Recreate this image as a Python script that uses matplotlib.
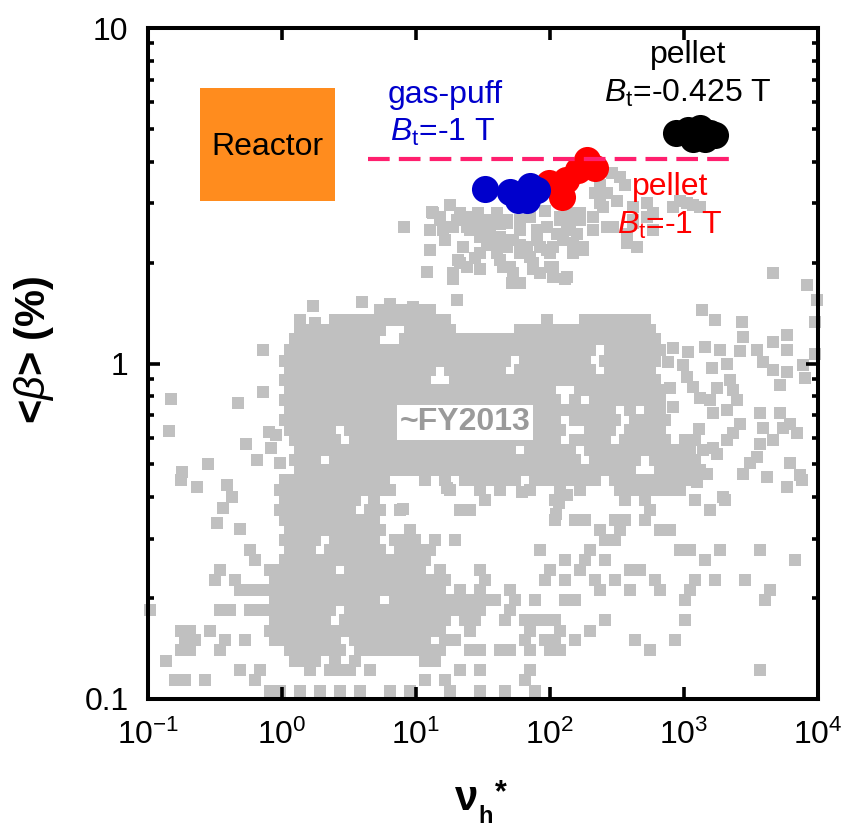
import matplotlib
matplotlib.use('Agg')
import matplotlib.pyplot as plt
from matplotlib.patches import Rectangle
from matplotlib.ticker import FixedLocator, FixedFormatter, NullLocator, NullFormatter

plt.rcParams['font.family'] = ['Liberation Sans', 'DejaVu Sans']
plt.rcParams['mathtext.fontset'] = 'custom'
plt.rcParams['mathtext.rm'] = 'Liberation Sans'
plt.rcParams['mathtext.it'] = 'Liberation Sans:italic'
plt.rcParams['mathtext.bf'] = 'Liberation Sans:bold'

# ---------------- data ----------------
# database (~FY2013), dense middle band: beta value of each row -> nu* values
band_y = [1.44, 1.35, 1.26, 1.18, 1.10, 1.02, 0.956, 0.893, 0.834, 0.778,
          0.726, 0.678, 0.633, 0.591, 0.552, 0.515, 0.481, 0.449, 0.419]
band_x = [
    [5.35, 6.4, 7.6, 9.0, 10.7, 12.7],
    [2.49, 2.95, 3.50, 4.15, 4.9, 5.8, 7.0, 8.3, 9.8, 11.7, 13.8, 16.5, 182, 217, 257, 306, 363, 430, 512],
    [1.36, 1.62, 1.92, 2.28, 2.70, 3.20, 3.80, 4.5, 5.35, 9.0, 10.7, 12.7, 15.1, 17.9, 59.6, 71, 84, 100,
     119, 141, 167, 199, 236, 281, 333, 395, 470, 557],
    [1.25, 1.49, 1.77, 2.10, 2.49, 2.95, 3.50, 4.15, 4.9, 8.3, 9.8, 11.7, 13.8, 16.5, 19.5, 23.2, 27.6,
     32.7, 38.8, 46.2, 54.8, 65, 77, 92, 109, 130, 154, 182, 217, 257, 306, 363, 430, 512, 607],
    [1.15, 1.36, 1.62, 1.92, 2.28, 2.70, 3.20, 3.80, 4.5, 5.35, 6.4, 7.6, 9.0, 10.7, 12.7, 15.1, 17.9, 21.3,
     25.3, 30.0, 35.6, 42.4, 50.3, 59.6, 71, 84, 100, 119, 141, 167, 199, 281, 333, 395, 470, 557, 661],
    [1.05, 1.25, 1.49, 1.77, 2.10, 2.49, 2.95, 3.50, 4.15, 4.9, 5.8, 7.0, 8.3, 9.8, 11.7, 13.8, 16.5, 19.5,
     23.2, 27.6, 32.7, 38.8, 46.2, 65, 77, 92, 109, 130, 154, 182, 257, 306, 363, 430, 512, 607],
    [1.15, 1.36, 1.62, 1.92, 2.28, 2.70, 3.20, 3.80, 4.5, 5.35, 6.4, 7.6, 9.0, 10.7, 12.7, 17.9, 21.3, 25.3,
     30.0, 35.6, 42.4, 59.6, 71, 84, 100, 119, 141, 167, 199, 281, 333, 395, 470, 557],
    [1.05, 1.25, 1.49, 1.77, 2.10, 2.49, 2.95, 3.50, 4.15, 4.9, 5.8, 7.0, 8.3, 9.8, 11.7, 19.5, 23.2, 27.6,
     32.7, 38.8, 46.2, 54.8, 65, 77, 92, 109, 130, 154, 182, 217, 257, 306, 363, 430, 512, 607],
    [1.15, 1.36, 1.62, 1.92, 2.28, 2.70, 3.20, 3.80, 4.5, 5.35, 6.4, 7.6, 9.0, 10.7, 12.7, 15.1, 17.9, 21.3,
     25.3, 30.0, 35.6, 42.4, 50.3, 59.6, 71, 84, 100, 167, 199, 236, 281, 333, 395, 470, 557, 661],
    [1.05, 1.25, 1.49, 1.77, 2.10, 2.49, 2.95, 3.50, 4.15, 4.9, 5.8, 7.0, 8.3, 9.8, 11.7, 13.8, 16.5, 19.5,
     23.2, 27.6, 32.7, 38.8, 46.2, 54.8, 65, 77, 92, 109, 154, 217, 257, 306, 363, 430, 512, 607],
    [1.15, 1.36, 1.62, 1.92, 2.28, 2.70, 3.20, 3.80, 4.5, 5.35, 6.4, 7.6, 9.0, 10.7, 12.7, 15.1, 17.9, 21.3,
     25.3, 30.0, 35.6, 42.4, 50.3, 59.6, 71, 84, 100, 119, 141, 167, 199, 236, 281, 395, 557, 661],
    [1.05, 1.25, 1.49, 1.77, 2.10, 2.49, 2.95, 3.50, 4.15, 4.9, 5.8, 7.0, 8.3, 9.8, 11.7, 13.8, 16.5, 19.5,
     23.2, 27.6, 32.7, 38.8, 46.2, 54.8, 65, 77, 92, 109, 154, 182, 217, 257, 306, 430, 512, 607, 720],
    [1.15, 1.36, 1.62, 1.92, 2.28, 3.20, 3.80, 4.5, 5.35, 6.4, 7.6, 9.0, 10.7, 12.7, 15.1, 17.9, 21.3, 25.3,
     30.0, 35.6, 42.4, 50.3, 59.6, 71, 84, 100, 119, 199, 236, 281, 395, 470, 557, 661],
    [1.25, 1.49, 1.77, 2.10, 2.49, 3.50, 4.15, 4.9, 5.8, 7.0, 8.3, 9.8, 11.7, 13.8, 16.5, 19.5, 23.2, 27.6,
     32.7, 38.8, 46.2, 54.8, 65, 77, 92, 109, 154, 182, 217, 257, 363, 430, 512, 607, 720, 1018, 1210],
    [1.36, 1.62, 1.92, 2.28, 2.70, 3.20, 3.80, 4.5, 5.35, 6.4, 7.6, 9.0, 10.7, 12.7, 15.1, 17.9, 21.3, 25.3,
     30.0, 35.6, 42.4, 50.3, 71, 84, 100, 119, 141, 199, 236, 281, 333, 395, 470, 557, 661, 786, 934, 1110],
    [1.25, 1.49, 1.77, 2.49, 2.95, 3.50, 4.15, 4.9, 5.8, 7.0, 8.3, 9.8, 11.7, 13.8, 16.5, 19.5, 23.2, 27.6,
     32.7, 38.8, 46.2, 54.8, 65, 77, 92, 109, 130, 154, 217, 257, 306, 363, 430, 607, 720, 857, 1018, 1210],
    [1.36, 1.62, 1.92, 2.28, 2.70, 3.20, 3.80, 4.5, 5.35, 6.4, 7.6, 9.0, 10.7, 12.7, 15.1, 17.9, 21.3, 25.3,
     30.0, 35.6, 42.4, 50.3, 59.6, 71, 84, 100, 119, 141, 167, 199, 236, 281, 333, 395, 661, 786, 934,
     1110, 1316],
    [1.05, 1.25, 1.49, 1.77, 2.10, 2.49, 2.95, 3.50, 4.15, 4.9, 5.8, 11.7, 16.5, 23.2, 27.6, 32.7, 38.8, 46.2,
     54.8, 77, 92, 109, 130, 154, 182, 217, 306, 363, 430, 512, 607, 720, 857, 1018],
    [0.97, 1.15, 1.36, 1.62, 1.92, 2.28, 2.70, 3.20, 3.80, 4.5, 5.35, 6.4, 17.9, 30.0, 42.4, 71, 119, 167,
     333, 395, 470, 557, 661, 786],
]

# database, right part of the middle band (nu* > ~700)
right_x = [830, 1071, 1434, 1850, 760, 983, 1620, 2090, 2760, 2610, 3510, 4630, 5870, 3880, 4630, 5870,
           5870, 7710, 7970, 5190, 2200, 2330, 1770, 1560, 1650, 1053, 1170, 1316, 786, 661, 830, 1290,
           2090, 2490, 2610, 2330, 2090, 1650, 3680, 3880, 5190, 5480, 6160, 6970, 4630, 3680, 3510, 3100,
           6160, 7310, 4160, 2760, 5870, 1485, 1250, 934, 1950, 1390, 1770, 9450]
right_y = [1.11, 1.08, 1.12, 1.10, 1.01, 0.99, 0.97, 1.00, 1.20, 1.09, 1.10, 1.16, 1.22, 1.01, 0.956, 1.10,
           0.943, 0.99, 0.906, 0.863, 0.893, 0.834, 0.845, 0.778, 0.71, 0.91, 0.851, 0.79, 0.845, 0.79,
           0.74, 0.639, 0.726, 0.778, 0.662, 0.62, 0.591, 0.559, 0.71, 0.643, 0.71, 0.643, 0.662, 0.62,
           0.591, 0.575, 0.525, 0.504, 0.504, 0.465, 0.458, 0.47, 0.428, 0.47, 0.443, 0.419, 0.40, 0.552,
           0.539, 1.07]

# database, lower cluster rows
low_y = [0.391, 0.365, 0.341, 0.318, 0.297, 0.278, 0.259, 0.242, 0.226, 0.211,
         0.197, 0.184, 0.172, 0.160, 0.150, 0.140, 0.130, 0.122, 0.114, 0.106]
low_x = [
    [1.05, 1.25, 1.49, 1.77, 2.10, 2.49, 2.95, 3.50, 4.9, 32.7, 109, 363, 512, 1210, 2020],
    [0.97, 1.15, 1.36, 1.62, 1.92, 2.28, 2.70, 3.20, 4.5, 5.35, 7.6, 21.3, 25.3, 557, 1560],
    [1.05, 1.25, 1.49, 1.77, 2.10, 2.49, 2.95, 3.50, 4.15, 4.9, 109, 154, 182, 306, 363, 512],
    [1.15, 1.36, 1.62, 1.92, 2.28, 2.70, 3.20, 3.80, 4.5, 5.35, 9.0, 236, 333, 661, 786],
    [1.05, 1.25, 1.49, 1.77, 2.49, 2.95, 3.50, 4.15, 4.9, 7.0, 8.3, 9.8, 13.8, 19.5, 257, 306],
    [0.578, 1.15, 1.36, 1.62, 2.28, 2.70, 3.20, 3.80, 4.5, 5.35, 7.6, 9.0, 10.7, 12.7, 84, 199, 934, 1110,
     1850, 3680],
    [0.63, 1.05, 1.25, 1.49, 1.77, 2.10, 2.49, 2.95, 3.50, 4.15, 4.9, 5.8, 7.0, 8.3, 9.8, 11.7, 130, 182,
     257, 1434, 6710],
    [0.345, 0.82, 0.97, 1.15, 1.36, 1.62, 1.92, 2.28, 3.20, 3.80, 4.5, 5.35, 6.4, 7.6, 9.0, 10.7, 15.1,
     30.0, 100, 167, 395, 470],
    [0.315, 0.447, 0.89, 1.05, 1.25, 1.49, 1.77, 2.10, 2.49, 2.95, 3.50, 4.15, 4.9, 5.8, 7.0, 8.3, 9.8,
     11.7, 13.8, 16.5, 32.7, 92, 130, 217, 306, 607, 1210, 1700, 2840],
    [0.487, 0.578, 0.686, 0.82, 0.97, 1.15, 1.36, 1.62, 1.92, 2.28, 2.70, 3.20, 3.80, 4.5, 5.35, 6.4, 7.6,
     9.0, 10.7, 12.7, 15.1, 21.3, 30.0, 50.3, 236, 395, 661, 1110, 4370],
    [0.89, 1.05, 1.25, 1.49, 1.77, 2.10, 2.49, 2.95, 3.50, 4.15, 4.9, 7.0, 8.3, 9.8, 11.7, 13.8, 16.5,
     19.5, 23.2, 27.6, 32.7, 38.8, 54.8, 77, 130, 154, 1018, 4010],
    [0.103, 0.345, 0.41, 0.578, 0.686, 0.82, 0.97, 1.15, 1.36, 1.62, 1.92, 2.28, 3.20, 3.80, 4.5, 5.35,
     6.4, 7.6, 9.0, 10.7, 12.7, 15.1, 17.9, 21.3, 25.3, 30.0, 50.3],
    [0.89, 1.05, 1.25, 1.49, 1.77, 2.10, 2.95, 3.50, 4.15, 4.9, 5.8, 7.0, 8.3, 9.8, 11.7, 13.8, 16.5, 23.2,
     27.6, 46.2, 65, 77, 92, 109, 257, 1018],
    [0.175, 0.206, 0.29, 0.82, 0.97, 1.15, 1.36, 1.62, 1.92, 2.28, 2.70, 3.20, 3.80, 4.5, 5.35, 6.4, 7.6,
     9.0, 10.7, 12.7, 15.1, 25.3, 71, 119, 199],
    [0.19, 0.225, 0.376, 0.53, 0.89, 1.05, 1.25, 1.49, 1.77, 2.10, 2.49, 3.50, 4.15, 4.9, 5.8, 7.0, 8.3,
     9.8, 11.7, 16.5, 19.5, 65, 92, 109, 154, 430, 857],
    [0.175, 0.206, 0.345, 1.15, 1.36, 1.62, 1.92, 2.28, 2.70, 3.80, 4.5, 5.35, 6.4, 7.6, 9.0, 10.7, 12.7,
     15.1, 25.3, 30.0, 42.4, 50.3, 71, 100, 119, 557],
    [0.136, 1.25, 1.49, 1.77, 2.49, 3.50, 11.7, 13.8],
    [0.487, 0.686, 1.62, 2.28, 2.70, 3.20, 4.5, 21.3, 30.0, 71, 3680],
    [0.159, 0.19, 0.267, 0.63, 11.7, 16.5, 65],
    [0.82, 0.97, 1.36, 1.92, 2.70, 3.80, 6.4, 9.0, 17.9, 30.0, 46.2, 77],
]

# database, high-beta cluster
high_x = [8.2, 13.4, 15.1, 12.7, 17.0, 20.2, 25.3, 29.0, 33.8, 40.2, 47.8, 59.6, 71, 80, 95, 119, 141,
          167, 209, 249, 316, 266, 333, 216, 236, 22.4, 21.3, 30, 35.6, 42.4, 47.8, 53, 59.6, 67.4, 80,
          95, 105, 125, 148, 176, 40.2, 44.6, 53, 59.6, 75, 84, 105, 134, 113, 134, 159, 209, 266, 376,
          417, 530, 590, 446, 830, 1050, 1316, 17.9, 290, 362, 936, 1170, 25.3, 59.6, 42.4, 92, 33.8,
          27.5, 12.1, 18.9, 20.2, 4630, 8300, 9800, 1360, 1700, 2710, 9500, 95, 16.5, 12.7,
          13.2, 15.9, 21.3, 24.0, 28.5, 40.2, 18.9, 24.0, 28.5, 33.8, 47.8, 35.6, 42.4, 50.3, 59.6, 42.4,
          50.3, 71, 75, 84, 100, 100, 105, 125, 148, 176, 119, 141, 167, 236, 417, 530, 295, 376, 417,
          590, 30.0, 20.5, 24.0, 30.0, 18.9, 9.5, 15.1]
high_y = [2.55, 2.81, 2.68, 2.50, 2.55, 2.68, 2.73, 2.81, 2.68, 2.81, 2.63, 2.68, 2.73, 2.50, 2.55, 2.73,
          2.81, 2.68, 2.73, 2.93, 3.06, 3.22, 3.60, 3.22, 3.41, 2.22, 2.00, 2.38, 2.44, 2.38, 2.22, 2.33,
          2.14, 2.22, 2.33, 2.18, 2.22, 2.33, 2.14, 2.22, 2.14, 1.94, 1.86, 1.74, 2.00, 1.86, 1.94, 1.81,
          2.44, 2.50, 2.44, 2.50, 2.55, 2.44, 2.68, 2.73, 2.50, 2.22, 2.93, 3.01, 2.93, 2.96, 3.69, 3.41,
          3.06, 2.96, 2.50, 2.50, 2.60, 2.84, 2.25, 2.06, 1.88, 1.86, 1.55, 1.86, 1.71, 1.55, 1.44, 1.35,
          1.33, 1.33, 1.35, 2.33, 2.18,
          2.83, 2.50, 2.81, 2.71, 2.68, 2.63, 2.55, 2.55, 2.50, 2.55, 2.68, 2.30, 2.22, 2.33, 2.25, 2.04,
          1.94, 2.07, 1.91, 2.22, 2.14, 1.94, 1.81, 2.44, 2.28, 2.18, 2.68, 2.63, 2.81, 3.01, 2.93, 3.01,
          2.55, 2.28, 2.63, 2.81, 2.14, 2.04, 1.94, 1.91, 1.84, 1.47, 2.73]

# database, scattered points
iso_x = [1.70, 1.77, 1.36, 3.95, 6.4, 18.9, 52, 129, 0.72, 0.72, 1.29, 0.149, 0.143, 0.47, 0.539, 0.80,
         0.90, 0.83, 0.65, 0.97, 0.28, 0.18, 0.175, 0.232, 0.39, 0.424, 0.36, 0.325, 0.487, 17.0, 8.0,
         62, 135, 116, 110, 7600]
iso_y = [1.48, 1.32, 1.35, 1.53, 1.50, 1.78, 1.74, 1.78, 1.10, 0.822, 1.15, 0.784, 0.63, 0.763, 0.575,
         0.625, 0.612, 0.56, 0.516, 0.505, 0.50, 0.475, 0.45, 0.429, 0.435, 0.40, 0.37, 0.335, 0.321,
         0.425, 0.368, 0.415, 0.405, 0.385, 0.357, 0.45]

# new discharges
gas_x = [32.7, 50.3, 57.6, 67.4, 71, 80]
gas_y = [3.31, 3.24, 3.07, 3.07, 3.38, 3.29]
pel1_x = [98, 123, 132, 162, 189, 216]
pel1_y = [3.45, 3.13, 3.52, 3.77, 4.05, 3.83]
pel2_x = [873, 1071, 1316, 1560, 1700, 1170, 1434]
pel2_y = [4.86, 4.96, 5.04, 4.86, 4.80, 4.67, 4.67]

# reference level and reactor region
ref_beta = 4.07
ref_x = [4.37, 2400]
reactor_x = [0.245, 2.49]
reactor_y = [3.05, 6.63]

x_ticks = [0.1, 1, 10, 100, 1000, 10000]
x_tick_labels = [r'$\mathregular{10^{-1}}$', r'$\mathregular{10^{0}}$', r'$\mathregular{10^{1}}$',
                 r'$\mathregular{10^{2}}$', r'$\mathregular{10^{3}}$', r'$\mathregular{10^{4}}$']
y_ticks = [0.1, 1, 10]
y_tick_labels = ['0.1', '1', '10']
y_minor = [0.2, 0.3, 0.4, 0.5, 0.6, 0.7, 0.8, 0.9, 2, 3, 4, 5, 6, 7, 8, 9]

# ---------------- figure ----------------
fig = plt.figure(figsize=(8.42, 8.32), dpi=100)
ax = fig.add_axes([148 / 842, 1 - 699 / 832, 670 / 842, 671 / 832])
ax.set_xscale('log')
ax.set_yscale('log')
ax.set_xlim(0.1, 1e4)
ax.set_ylim(0.1, 10)

gx, gy = [], []
for yv, xs in zip(band_y + low_y, band_x + low_x):
    gx += xs
    gy += [yv] * len(xs)
gx += high_x + iso_x + right_x
gy += high_y + iso_y + right_y
ax.scatter(gx, gy, marker='s', s=8.3 ** 2, c='#c0c0c0', linewidths=0, clip_on=False, zorder=1)

ax.add_patch(Rectangle((reactor_x[0], reactor_y[0]), reactor_x[1] - reactor_x[0],
                       reactor_y[1] - reactor_y[0], facecolor='#ff8c1e', edgecolor='none', zorder=2))
ax.text(0.78, 4.42, 'Reactor', fontsize=23, ha='center', va='center', color='black', zorder=3)

ax.scatter(pel1_x, pel1_y, s=19.5 ** 2, c='#ff0000', linewidths=0, zorder=3)
ax.scatter(gas_x, gas_y, s=19.5 ** 2, c='#0000cc', linewidths=0, zorder=4)
ax.scatter(pel2_x, pel2_y, s=19.5 ** 2, c='black', linewidths=0, zorder=4)

ax.plot(ref_x, [ref_beta, ref_beta], color='#ff1f6e', lw=3, dashes=(5.2, 2.2), zorder=5)

ax.text(16.5, 5.98, 'gas-puff', color='#0000cc', fontsize=23, ha='center', va='baseline', zorder=6)
ax.text(15.8, 4.60, r'$B_{\mathrm{t}}$=-1 T', color='#0000cc', fontsize=23, ha='center',
        va='baseline', zorder=6)
ax.text(1071, 7.87, 'pellet', color='black', fontsize=23, ha='center', va='baseline', zorder=6)
ax.text(1071, 6.02, r'$B_{\mathrm{t}}$=-0.425 T', color='black', fontsize=23, ha='center',
        va='baseline', zorder=6)
ax.text(786, 3.18, 'pellet', color='#ff0000', fontsize=23, ha='center', va='baseline', zorder=6)
ax.text(780, 2.44, r'$B_{\mathrm{t}}$=-1 T', color='#ff0000', fontsize=23, ha='center',
        va='baseline', zorder=6)

ax.text(23.2, 0.669, '~FY2013', color='#9a9a9a', fontsize=23, fontweight='bold', ha='center',
        va='center', zorder=6,
        bbox=dict(boxstyle='square,pad=0.08', facecolor='white', edgecolor='none'))

ax.xaxis.set_major_locator(FixedLocator(x_ticks))
ax.xaxis.set_major_formatter(FixedFormatter(x_tick_labels))
ax.xaxis.set_minor_locator(NullLocator())
ax.yaxis.set_major_locator(FixedLocator(y_ticks))
ax.yaxis.set_major_formatter(FixedFormatter(y_tick_labels))
ax.yaxis.set_minor_locator(FixedLocator(y_minor))
ax.yaxis.set_minor_formatter(NullFormatter())
ax.tick_params(which='both', direction='in', top=True, right=True, width=2.6, color='black')
ax.tick_params(which='major', length=8.6, labelsize=23)
ax.tick_params(which='minor', length=4.3)
ax.tick_params(axis='x', which='major', pad=15)
ax.tick_params(axis='y', which='major', pad=14)
for s in ax.spines.values():
    s.set_linewidth(2.9)
    s.set_zorder(7)

fig.text(34 / 842, 1 - 350 / 832, r'<$\mathit{\beta}$> (%)', rotation=90, ha='center', va='center',
         fontsize=30, fontweight='bold')
fig.text(455 / 842, 1 - 810 / 832, '\u03bd', ha='left', va='baseline', fontsize=30, fontweight='bold')
fig.text(478 / 842, 1 - 823 / 832, 'h', ha='left', va='baseline', fontsize=17, fontweight='bold')
fig.text(495 / 842, 1 - 778 / 832, '*', ha='left', va='top', fontsize=22, fontweight='bold')

fig.savefig('out.png', dpi=100)
